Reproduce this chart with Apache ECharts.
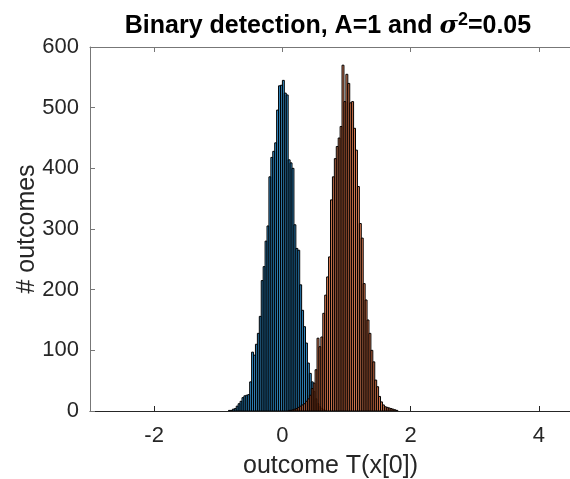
<!DOCTYPE html>
<html>
<head>
<meta charset="utf-8">
<script src="https://cdn.jsdelivr.net/npm/echarts@6/dist/echarts.min.js"></script>
<style>
html,body{margin:0;padding:0;background:#fff;}
#chart{width:570px;height:479px;}
</style>
</head>
<body>
<div id="chart"></div>
<script>
// ---- data ----
const binWidth = 0.03;
const blueFirstEdge = -0.84;   // left edge of first blue bin
const blueCounts = [1,1,3,4,8,12,16,22,25,26,27,48,97,92,110,128,156,215,238,280,305,386,418,428,442,496,536,537,545,524,521,414,409,400,307,268,265,208,166,139,112,79,62,48,32,20,12,7,4,2,1];
const redFirstEdge = 0.09;     // left edge of first red bin
const redCounts = [1,1,2,3,4,6,8,10,12,16,20,26,37,46,68,120,106,122,161,191,221,254,348,386,416,436,450,469,570,510,555,540,508,510,466,430,370,309,285,210,183,150,128,100,81,51,40,24,15,10,7,6,5,4,3,2,1];
const xTicks = [-2, 0, 2, 4];
const yTicks = [0, 100, 200, 300, 400, 500, 600];

function toBins(first, counts) {
  return counts.map((c, i) => [first + i * binWidth, first + (i + 1) * binWidth, c]);
}

const FONT = 'Liberation Sans, Arial, Helvetica, sans-serif';
const AX = '#262626';

function histSeries(data, fill) {
  return {
    type: 'custom',
    data: data,
    clip: true,
    renderItem: function (params, api) {
      const p0 = api.coord([api.value(0), api.value(2)]);
      const p1 = api.coord([api.value(1), 0]);
      return {
        type: 'rect',
        shape: { x: p0[0], y: p0[1], width: p1[0] - p0[0], height: p1[1] - p0[1] },
        style: { fill: fill, stroke: '#000', lineWidth: 1.0 }
      };
    },
    encode: { x: [0, 1], y: 2 }
  };
}

const chart = echarts.init(document.getElementById('chart'), null, { renderer: 'canvas' });
chart.setOption({
  animation: false,
  backgroundColor: '#fff',
  title: {
    text: '{b|Binary detection, A=1 and }{s|σ}{sup|2}{b|=0.05}',
    left: 323, top: 6, textAlign: 'center',
    textStyle: {
      rich: {
        b: { fontFamily: FONT, fontWeight: 'bold', fontSize: 25, color: '#000' },
        s: { fontFamily: 'DejaVu Serif, serif', fontStyle: 'italic', fontSize: 25, color: '#000' },
        sup: { fontFamily: FONT, fontWeight: 'bold', fontSize: 18, color: '#000', verticalAlign: 'top', padding: [0, 0, 13, 0] }
      }
    }
  },
  grid: { left: 90, top: 47, width: 481, height: 364, containLabel: false, outerBoundsMode: 'none' },
  xAxis: [{
    type: 'value', min: -3, max: 4.5, position: 'bottom',
    axisLine: { onZero: false, lineStyle: { color: AX, width: 1 } },
    axisTick: { inside: true, length: 5, customValues: xTicks, lineStyle: { color: AX } },
    axisLabel: { customValues: xTicks, fontFamily: FONT, fontSize: 22, color: AX, margin: 14 },
    splitLine: { show: false },
    name: 'outcome T(x[0])', nameLocation: 'middle', nameGap: 43, nameMoveOverlap: false,
    nameTextStyle: { fontFamily: FONT, fontSize: 25, color: AX }
  }, {
    type: 'value', min: -3, max: 4.5, position: 'top',
    axisLine: { onZero: false, lineStyle: { color: '#777', width: 1 } },
    axisTick: { inside: true, length: 5, customValues: xTicks, lineStyle: { color: '#777' } },
    axisLabel: { show: false }, splitLine: { show: false }
  }],
  yAxis: [{
    type: 'value', min: 0, max: 600, interval: 100,
    axisLine: { show: true, onZero: false, lineStyle: { color: '#777', width: 1 } },
    axisTick: { show: true, inside: true, length: 5, lineStyle: { color: '#777' } },
    axisLabel: { fontFamily: FONT, fontSize: 22, color: AX, margin: 11 },
    splitLine: { show: false },
    name: '# outcomes', nameLocation: 'middle', nameGap: 50, nameRotate: 90, nameMoveOverlap: false,
    nameTextStyle: { fontFamily: FONT, fontSize: 25, color: AX }
  }],
  series: [
    histSeries(toBins(blueFirstEdge, blueCounts), 'rgba(0,114,189,0.78)'),
    histSeries(toBins(redFirstEdge, redCounts), 'rgba(217,83,25,0.72)')
  ]
});
</script>
</body>
</html>
